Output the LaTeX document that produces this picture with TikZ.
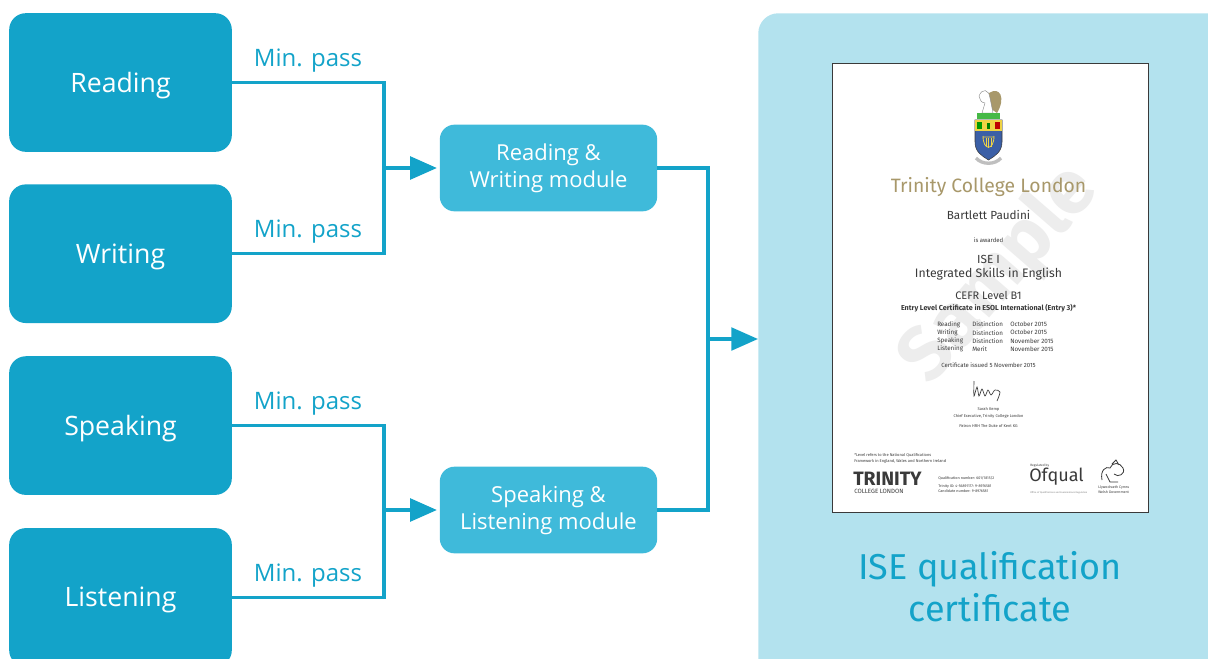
\documentclass[tikz,border=0pt]{standalone}
\usepackage{fontspec}
\setmainfont{Open Sans}
\newfontfamily\certfont{Fira Sans}
\usetikzlibrary{arrows.meta,positioning}
\definecolor{skillblue}{HTML}{13A3C9}
\definecolor{moduleblue}{HTML}{3FBADA}
\definecolor{panelblue}{HTML}{B3E2EE}
\definecolor{trinitygold}{HTML}{A8986A}
\definecolor{certgrey}{HTML}{3A3A3A}
\definecolor{markgrey}{HTML}{EDEDED}
\definecolor{crestblue}{HTML}{3B5FA6}
\definecolor{crestyellow}{HTML}{EFD345}

\begin{document}
\begin{tikzpicture}[x=0.75pt, y=-0.75pt, >={Triangle[length=20pt,width=17pt]},
    skill/.style={rectangle, rounded corners=12.5pt, fill=skillblue, text=white,
      minimum width=167pt, minimum height=104pt, text height=14.3pt, text depth=0pt,
      font=\fontsize{20}{24}\selectfont},
    module/.style={rectangle, rounded corners=11pt, fill=moduleblue, text=white,
      align=center, minimum width=163pt, minimum height=65pt,
      font=\fontsize{16.5}{20}\selectfont},
    pass/.style={above=4.5pt, inner sep=2pt, text=skillblue,
      font=\fontsize{18}{20}\selectfont},
    link/.style={draw=skillblue, line width=2.5pt},
    cert/.style={font=\certfont\fontsize{#1}{#1}\selectfont, text=certgrey, inner sep=0pt},
    cert/.default=5]
  \useasboundingbox (0,0) rectangle (1208,658);
  \clip (0,0) rectangle (1208,658);

  \node [skill] (reading) at (120.5,82.5) {Reading};
  \node [skill, below=24pt of reading] (writing) {Writing};
  \node [skill, below=24.5pt of writing] (speaking) {Speaking};
  \node [skill, below=24.5pt of speaking] (listening) {Listening};

  \node [module] (rw) at (548.5,168) {Reading \&\\Writing module};
  \node [module] (sl) at (548.5,510) {Speaking \&\\Listening module};

  \node [rectangle, rounded corners=15pt, fill=panelblue, anchor=north west,
    minimum width=400pt, minimum height=520pt] (panel) at (758,13) {};

  \coordinate (rwjoin) at (384,168);
  \coordinate (sljoin) at (384,510);
  \coordinate (certjoin) at (708,339);

  \draw [link] (reading.east) -| node[pass, pos=0.25] {Min. pass} (rwjoin)
               |- node[pass, pos=0.75] {Min. pass} (writing.east);
  \draw [link] (speaking.east) -| node[pass, pos=0.25] {Min. pass} (sljoin)
               |- node[pass, pos=0.75] {Min. pass} (listening.east);
  \draw [link, ->, shorten >=2pt] (rwjoin) -- (rw);
  \draw [link, ->, shorten >=2pt] (sljoin) -- (sl);
  \draw [link] (rw.east) -| (certjoin) |- (sl.east);
  \draw [link, ->] (certjoin) -- (certjoin -| panel.west);

  % certificate
  \node [rectangle, draw=certgrey, line width=0.8pt, fill=white, anchor=north west,
    minimum width=237pt, minimum height=337pt] (page) at (832,63) {};
  \node [rotate=49, text=markgrey, font=\certfont\bfseries\fontsize{57}{57}\selectfont]
    (mark) at (1000,275) {Sample};

  \fill [trinitygold] (989,93) .. controls (1000,86) and (1006,98) .. (997,113) -- (990,108) -- cycle;
  \filldraw [fill=white, draw=gray, line width=0.3pt] (979,96) .. controls (982,88) and (989,89) .. (990,98)
    -- (993,113) -- (982,113) -- (985,103) .. controls (981,102) .. cycle;
  \fill [green!45!gray] (977,113) rectangle (1000,119);
  \filldraw [fill=crestblue, draw=certgrey, line width=0.4pt] (975,120) -- (1002,120) -- (1002,142)
    .. controls (1002,152) and (995,156) .. (988.5,160) .. controls (982,156) and (975,152) .. (975,142) -- cycle;
  \fill [crestyellow] (975.3,120.3) rectangle (1001.7,131);
  \fill [green!60!black] (977,122) rectangle (982,129);
  \fill [red!75!black] (995,122) rectangle (1000,129);
  \fill [green!50!black] (987,123) rectangle (990,129);
  \draw [crestyellow, line width=0.6pt] (983,136) .. controls (983,151) and (994,151) .. (994,136) (983,137) -- (994,137);
  \draw [crestyellow, line width=0.3pt] (986,138) -- (986,147) (988.5,138) -- (988.5,148) (991,138) -- (991,147);
  \draw [gray!50, line width=2.5pt] (976,158) .. controls (982,165) and (995,165) .. (1001,158);

  \node [cert=14.5, text=trinitygold] (ctitle) at (988.5,187) {Trinity College London};
  \node [cert=8.8] (cname) at (988.5,215) {Bartlett Paudini};
  \node [cert=4.5] (cawarded) at (988.5,240) {is awarded};
  \node [cert=8.8] (cise) at (988.5,259) {ISE I};
  \node [cert=9.2] (cskills) at (988.5,274) {Integrated Skills in English};
  \node [cert=8.2] (ccefr) at (988.5,295) {CEFR Level B1};
  \node [cert=5, font=\certfont\bfseries\fontsize{5.4}{6}\selectfont] (centry) at (988.5,308)
    {Entry Level Certificate in ESOL International (Entry 3)*};
  \foreach \skl/\grade/\month [count=\i] in {Reading/Distinction/October 2015,
      Writing/Distinction/October 2015, Speaking/Distinction/November 2015,
      Listening/Merit/November 2015} {
    \node [cert=4.7, anchor=west] (cskill\i) at (937,316+8.3*\i) {\skl};
    \node [cert=4.7, anchor=west] (cgrade\i) at (972,316+8.3*\i) {\grade};
    \node [cert=4.7, anchor=west] (cmonth\i) at (1010,316+8.3*\i) {\month};
  }
  \node [cert=4.5] (cissued) at (988.5,365) {Certificate issued 5 November 2015};
  \draw [certgrey, line width=0.5pt] plot[smooth] coordinates {(974,381) (974,396) (977,387)
    (979,396) (982,389) (985,396) (988,390) (991,395) (995,390) (1000,392) (997,401)};
  \node [cert=3] (ckemp) at (988.5,409) {Sarah Kemp};
  \node [cert=3] (cchief) at (988.5,416) {Chief Executive, Trinity College London};
  \node [cert=3] (cpatron) at (988.5,426) {Patron HRH The Duke of Kent KG};
  \node [cert=3, anchor=west, align=left, font=\certfont\fontsize{3}{5}\selectfont] (cnote) at (854,458.5)
    {*Level refers to the National Qualifications\\Framework in England, Wales and Northern Ireland};
  \node [cert=14, font=\certfont\bfseries\fontsize{14.5}{14}\selectfont, anchor=west] (ctrinity) at (853,479) {TRINITY};
  \node [cert=4.6, anchor=west] (ccollege) at (854,491) {COLLEGE LONDON};
  \node [cert=2.8, anchor=west] (cqual) at (938,478) {Qualification number: 601/1815/2};
  \node [cert=2.8, anchor=west] (cid) at (938,486) {Trinity ID: 4-56891177: 9-8976581};
  \node [cert=2.8, anchor=west] (ccand) at (938,491.5) {Candidate number: 9-8976581};
  \node [cert=2.4, anchor=west] (cregulated) at (1030,466) {Regulated by};
  \node [cert=13.5, anchor=west] (cofqual) at (1029,477) {Ofqual};
  \node [cert=1.8, anchor=west, text=gray] (cofqualsub) at (1030,493) {Office of Qualifications and Examinations Regulation};
  \draw [certgrey, line width=0.6pt] (1102,480) .. controls (1100,470) and (1106,466) .. (1110,468)
    .. controls (1112,462) and (1120,462) .. (1123,468) .. controls (1126,474) and (1118,478) .. (1114,474)
    (1106,474) -- (1110,482) -- (1118,482) (1112,464) -- (1116,460) -- (1119,465);
  \node [cert=2.7, anchor=west] (cwales) at (1098,488) {Llywodraeth Cymru};
  \node [cert=2.7, anchor=west] (cwelsh) at (1098,492.5) {Welsh Government};

  \node [font=\certfont\fontsize{27}{31}\selectfont, text=skillblue, align=center]
    (iselabel) at (990,586.5) {ISE qualification\\certificate};
\end{tikzpicture}
\end{document}
